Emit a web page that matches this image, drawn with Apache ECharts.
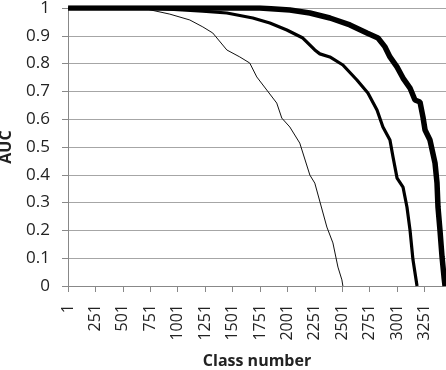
<!DOCTYPE html>
<html>
<head>
<meta charset="utf-8">
<script src="https://cdn.jsdelivr.net/npm/echarts@6/dist/echarts.min.js"></script>
<style>
  html, body { margin: 0; padding: 0; background: #ffffff; }
  #chart { width: 446px; height: 370px; }
</style>
</head>
<body>
<div id="chart"></div>
<script>
// class number / AUC, one pair of arrays per curve
var thinClass = [1, 672, 928, 1110, 1229, 1320, 1448, 1566, 1657, 1721, 1812, 1903, 1949, 2022, 2113, 2205, 2250, 2360, 2415, 2461, 2497, 2506];
var thinAuc   = [1, 1, 0.978, 0.957, 0.932, 0.91, 0.849, 0.824, 0.802, 0.752, 0.705, 0.658, 0.604, 0.572, 0.514, 0.399, 0.37, 0.212, 0.155, 0.068, 0.022, 0];

var midClass = [1, 746, 928, 1229, 1448, 1685, 1840, 1995, 2141, 2250, 2296, 2387, 2506, 2634, 2734, 2817, 2871, 2935, 2963, 3000, 3054, 3090, 3118, 3145, 3182];
var midAuc   = [1, 1, 0.996, 0.989, 0.982, 0.964, 0.946, 0.921, 0.892, 0.849, 0.835, 0.824, 0.795, 0.741, 0.694, 0.633, 0.572, 0.525, 0.464, 0.388, 0.356, 0.284, 0.201, 0.094, 0];

var thickClass = [1, 1749, 2023, 2205, 2388, 2570, 2725, 2826, 2890, 2935, 2999, 3054, 3118, 3163, 3209, 3236, 3255, 3300, 3346, 3364, 3373, 3391, 3410, 3428, 3437];
var thickAuc   = [1, 1, 0.993, 0.982, 0.964, 0.939, 0.91, 0.892, 0.86, 0.824, 0.788, 0.748, 0.712, 0.669, 0.662, 0.608, 0.561, 0.525, 0.442, 0.371, 0.284, 0.201, 0.104, 0.032, 0];

var classMax = 3446;

function pairs(xs, ys) {
    var out = [];
    for (var i = 0; i < xs.length; i++) out.push([xs[i], ys[i]]);
    return out;
}

var myChart = echarts.init(document.getElementById('chart'));
var font = 'Open Sans';

var option = {
    backgroundColor: '#ffffff',
    animation: false,
    grid: { left: 68, right: 0, top: 8, bottom: 84, outerBoundsMode: 'none' },
    xAxis: {
        type: 'value',
        min: 0,
        max: classMax,
        interval: 250,
        name: 'Class number',
        nameLocation: 'middle',
        nameGap: 67,
        nameTextStyle: { fontFamily: font, fontSize: 16, fontWeight: 'bold', color: '#222' },
        axisLine: { show: true, lineStyle: { color: '#888' } },
        axisTick: { show: true, length: 6, lineStyle: { color: '#888' } },
        splitLine: { show: false },
        axisLabel: {
            rotate: 90,
            margin: 18,
            showMaxLabel: false,
            fontFamily: font,
            fontSize: 16,
            color: '#222',
            formatter: function (v) { return v % 250 === 0 ? String(v + 1) : ''; }
        }
    },
    yAxis: {
        type: 'value',
        min: 0,
        max: 1,
        interval: 0.1,
        name: 'AUC',
        nameLocation: 'middle',
        nameGap: 54,
        nameTextStyle: { fontFamily: font, fontSize: 16, fontWeight: 'bold', color: '#222' },
        axisLine: { show: true, lineStyle: { color: '#888' } },
        axisTick: { show: true, length: 6, lineStyle: { color: '#888' } },
        splitLine: { lineStyle: { color: '#a6a6a6', width: 1 } },
        axisLabel: {
            margin: 18,
            fontFamily: font,
            fontSize: 17,
            color: '#222',
            formatter: function (v) { return String(Math.round(v * 10) / 10); }
        }
    },
    series: [
        {
            type: 'line', data: pairs(thinClass, thinAuc), showSymbol: false,
            lineStyle: { color: '#111', width: 1 }
        },
        {
            type: 'line', data: pairs(midClass, midAuc), showSymbol: false,
            lineStyle: { color: '#000', width: 3.2 }
        },
        {
            type: 'line', data: pairs(thickClass, thickAuc), showSymbol: false,
            lineStyle: { color: '#000', width: 5.5 }
        }
    ]
};

myChart.setOption(option);
</script>
</body>
</html>
